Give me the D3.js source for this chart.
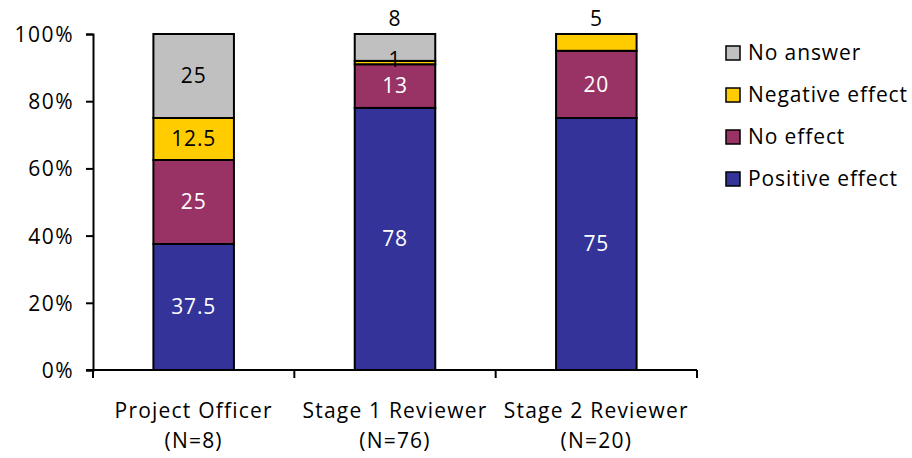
<!DOCTYPE html>
<html>
<head>
<meta charset="utf-8">
<script src="https://cdn.jsdelivr.net/npm/d3@7"></script>
<style>
  body { margin: 0; background: #fff; }
  svg text { font-family: "Open Sans", Lato, sans-serif; fill: #000; }
</style>
</head>
<body>
<div id="chart"></div>
<script>
// data
var groups = ["Project Officer", "Stage 1 Reviewer", "Stage 2 Reviewer"];
var groupN = ["(N=8)", "(N=76)", "(N=20)"];
var seriesNames = ["Positive effect", "No effect", "Negative effect", "No answer"];
var positive = [37.5, 78, 75];
var noEffect = [25, 13, 20];
var negative = [12.5, 1, 5];
var noAnswer = [25, 8, 0];
var yTicks = [0, 20, 40, 60, 80, 100];

var colors = ["#333399", "#993366", "#FFCC00", "#C0C0C0"];
var labelColors = ["#fff", "#fff", "#000", "#000"];

var width = 912, height = 458;
var margin = {top: 34, left: 93, right: 215, bottom: 88};
var plotW = 697 - margin.left, plotH = 370 - margin.top;

var svg = d3.select('#chart').append('svg')
  .attr('width', width)
  .attr('height', height);

var g = svg.append('g')
  .attr('transform', 'translate(' + margin.left + ',' + margin.top + ')');

var x = d3.scaleBand()
  .domain(groups)
  .range([0, plotW])
  .paddingInner(0.6)
  .paddingOuter(0.3);

var y = d3.scaleLinear()
  .domain([0, 100])
  .range([plotH, 0]);

var rows = groups.map(function (gName, i) {
  return {group: gName, "Positive effect": positive[i], "No effect": noEffect[i],
          "Negative effect": negative[i], "No answer": noAnswer[i]};
});

var stack = d3.stack().keys(seriesNames);
var layers = stack(rows);

// bars
var layer = g.selectAll('.layer')
  .data(layers)
  .enter().append('g')
  .attr('class', 'layer')
  .attr('fill', function (d, i) { return colors[i]; });

layer.selectAll('rect')
  .data(function (d) { return d; })
  .enter().append('rect')
  .filter(function (d) { return d[1] - d[0] > 0; })
  .attr('x', function (d) { return x(d.data.group); })
  .attr('width', x.bandwidth())
  .attr('y', function (d) { return y(d[1]); })
  .attr('height', function (d) { return y(d[0]) - y(d[1]); })
  .attr('stroke', '#000')
  .attr('stroke-width', 2);

// segment labels
layers.forEach(function (ly, si) {
  ly.forEach(function (d, gi) {
    var v = d[1] - d[0];
    if (v <= 0) return;
    var cy = y((d[0] + d[1]) / 2);
    var col = labelColors[si];
    // the top segments of the reviewer bars are labelled above the bar
    var above = (gi === 1 && si === 3) || (gi === 2 && si === 2);
    if (above) { cy = y(100) - 15; col = '#000'; }
    // tiny negative segment: label sits a little above its slice
    if (gi === 1 && si === 2) cy -= 3;
    g.append('text')
      .attr('x', x(d.data.group) + x.bandwidth() / 2)
      .attr('y', cy)
      .attr('dy', '0.35em')
      .attr('text-anchor', 'middle')
      .style('font-size', '21px')
      .style('letter-spacing', '0.8px')
      .style('fill', col)
      .text(v);
  });
});

// y axis
var yAxis = g.append('g')
  .call(d3.axisLeft(y).tickValues(yTicks).tickSize(7).tickPadding(12)
    .tickFormat(function (d) { return d + '%'; }));
yAxis.selectAll('text').style('font-size', '21px').style('letter-spacing', '1.5px').attr('dy', '0.36em');
yAxis.select('.domain').attr('stroke', '#000').attr('stroke-width', 2);
yAxis.selectAll('.tick line').attr('stroke-width', 2);

// x axis: ticks between categories
var xAxis = g.append('g').attr('transform', 'translate(0,' + plotH + ')');
xAxis.append('line')
  .attr('x1', -7).attr('x2', plotW)
  .attr('stroke', '#000').attr('stroke-width', 2);
var bounds = d3.range(groups.length + 1).map(function (i) { return i * plotW / groups.length; });
xAxis.selectAll('.xt')
  .data(bounds)
  .enter().append('line')
  .attr('x1', function (d) { return d; })
  .attr('x2', function (d) { return d; })
  .attr('y1', 0).attr('y2', 8)
  .attr('stroke', '#000').attr('stroke-width', 2);

var xl = xAxis.selectAll('.xl')
  .data(groups)
  .enter().append('text')
  .attr('text-anchor', 'middle')
  .attr('x', function (d) { return x(d) + x.bandwidth() / 2; })
  .style('font-size', '21px')
  .style('letter-spacing', '1.2px');
xl.append('tspan').attr('x', function (d) { return x(d) + x.bandwidth() / 2; })
  .attr('y', 48).text(function (d) { return d; });
xl.append('tspan').attr('x', function (d) { return x(d) + x.bandwidth() / 2; })
  .attr('y', 78).text(function (d, i) { return groupN[i]; });

// legend
var legend = svg.append('g').attr('transform', 'translate(726,53)');
var items = seriesNames.slice().reverse();
var li = legend.selectAll('.li')
  .data(items)
  .enter().append('g')
  .attr('transform', function (d, i) { return 'translate(0,' + (i * 42) + ')'; });
li.append('rect')
  .attr('x', 0).attr('y', -7)
  .attr('width', 14).attr('height', 14)
  .attr('fill', function (d) { return colors[seriesNames.indexOf(d)]; })
  .attr('stroke', '#000').attr('stroke-width', 1.5);
li.append('text')
  .attr('x', 22).attr('dy', '0.35em')
  .style('font-size', '21px')
  .style('letter-spacing', '0.9px')
  .text(function (d) { return d; });
</script>
</body>
</html>
